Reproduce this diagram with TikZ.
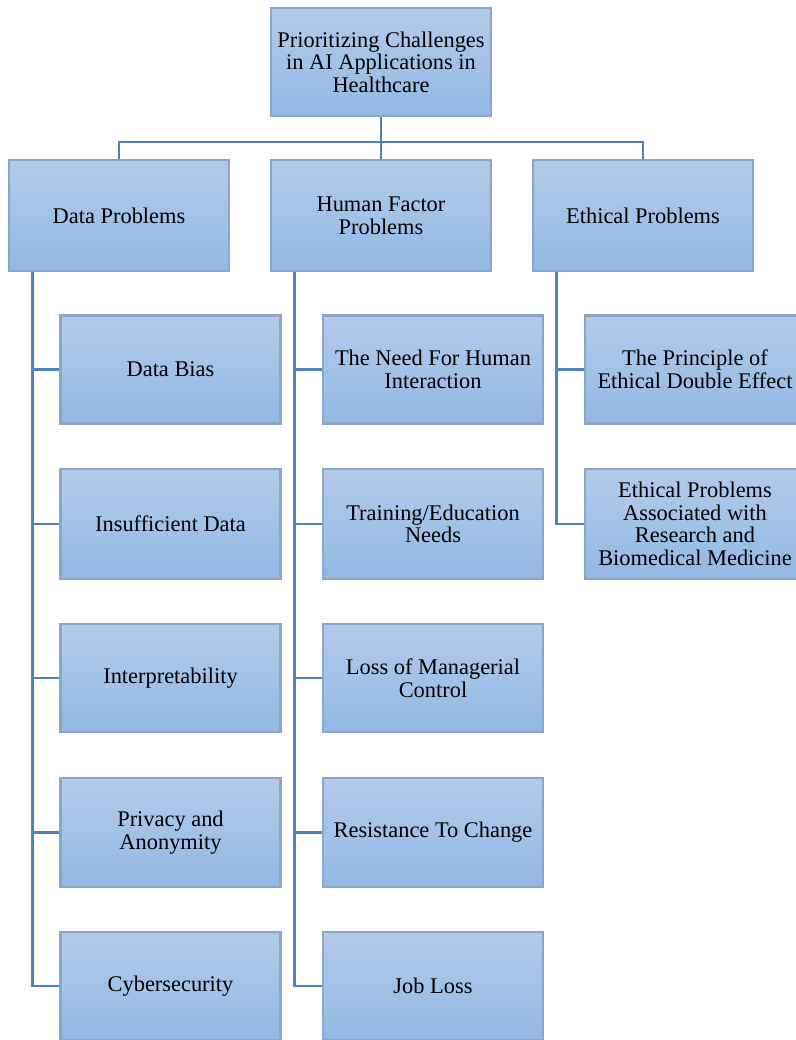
\documentclass[tikz,border=0pt]{standalone}
\usepackage{fontspec}
\setmainfont{Liberation Serif}
\usepackage{xcolor}
\usepackage{tikz}
\usetikzlibrary{calc}
\definecolor{boxtop}{RGB}{179,203,235}
\definecolor{boxbot}{RGB}{146,184,228}
\definecolor{boxline}{RGB}{142,166,198}
\definecolor{linkblue}{RGB}{79,129,189}

\begin{document}
\begin{tikzpicture} [
                x=0.5pt, y=-0.5pt,
                box/.style = {draw=boxline, line width=1.3pt, top color=boxtop, bottom color=boxbot, minimum width=110pt, minimum height=54pt, align=center, inner sep=1pt, font=\fontsize{11.2}{11.3}\selectfont},
                link/.style = {draw=linkblue, line width=1.4pt}
            ]
            \useasboundingbox (0,0) rectangle (796,1040);
            \clip (0,0) rectangle (796,1040);
            \node (root) at (381, 62) [box] {Prioritizing Challenges\\in AI Applications in\\Healthcare};
            \node (data) at (119, 215.5) [box, minimum height=55.5pt] {Data Problems};
            \node (human) at (381, 215.5) [box, minimum height=55.5pt] {Human Factor\\Problems};
            \node (ethic) at (643, 215.5) [box, minimum height=55.5pt] {Ethical Problems};
            \coordinate (hub) at (381, 142);
            \draw [link] (root) -- (hub) -- (human);
            \draw [link] (hub) -| (data);
            \draw [link] (hub) -| (ethic);
            % data column
            \node (d1) at (170.5, 369.5) [box] {Data Bias};
            \node (d2) at (170.5, 524) [box, minimum height=55pt] {Insufficient Data};
            \node (d3) at (170.5, 678) [box] {Interpretability};
            \node (d4) at (170.5, 832.5) [box, minimum height=54.5pt] {Privacy and\\Anonymity};
            \node (d5) at (170.5, 986) [box] {Cybersecurity};
            \draw [link] ([xshift=12.5pt] data.south west) |- (d5.west);
            \foreach \n in {d1,d2,d3,d4}
                \draw [link] ([xshift=12.5pt] data.south west) |- (\n.west);
            % human column
            \node (h1) at (433, 369.5) [box] {The Need For Human\\Interaction};
            \node (h2) at (433, 524) [box, minimum height=55pt] {Training/Education\\Needs};
            \node (h3) at (433, 678) [box] {Loss of Managerial\\Control};
            \node (h4) at (433, 832.5) [box, minimum height=54.5pt] {Resistance To Change};
            \node (h5) at (433, 986) [box] {Job Loss};
            \foreach \n in {h1,h2,h3,h4,h5}
                \draw [link] ([xshift=12.5pt] human.south west) |- (\n.west);
            % ethical column
            \node (e1) at (695, 369.5) [box] {The Principle of\\Ethical Double Effect};
            \node (e2) at (695, 524) [box, minimum height=55pt] {Ethical Problems\\Associated with\\Research and\\Biomedical Medicine};
            \foreach \n in {e1,e2}
                \draw [link] ([xshift=12.5pt] ethic.south west) |- (\n.west);
        \end{tikzpicture}
\end{document}
